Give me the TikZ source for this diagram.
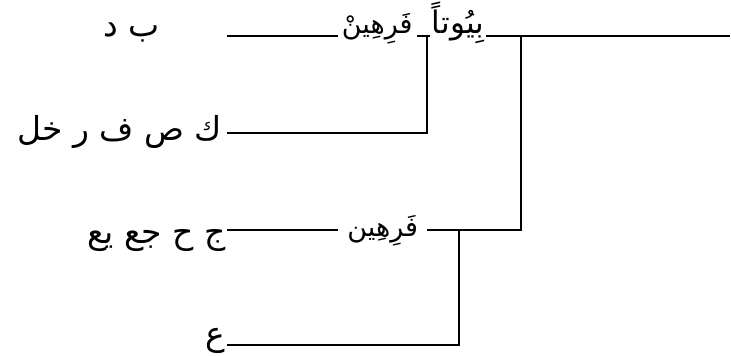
\documentclass[tikz,border=0pt]{standalone}
\usepackage{fontspec}
\TeXXeTstate=1
\newfontfamily\arabicfont[Script=Arabic]{DejaVu Sans}
\begin{document}
\begin{tikzpicture}[x=1pt,y=-1pt,
  br/.style={line width=1.3pt, line cap=rect},
  leaf/.style={anchor=base east, inner sep=0pt, font=\arabicfont\fontsize{33}{38}\selectfont},
  lbl/.style={anchor=base, fill=white, inner ysep=0pt, inner xsep=4pt, font=\arabicfont\fontsize{27}{32}\selectfont}]
\useasboundingbox (0,0) rectangle (731,356);
% leaves
\node[leaf] (l1) at (160,36) {\beginR ب د\endR};
\node[leaf] (l2) at (222,140) {\beginR ك ص ف ر خل\endR};
\node[leaf] (l3) at (226,243) {\beginR ج ح جع يع\endR};
\node[leaf] (l4) at (225,345) {\beginR ع\endR};
% line starts
\coordinate (a1) at (228,36);
\coordinate (a2) at (228,133);
\coordinate (a3) at (228,230);
\coordinate (a4) at (228,345);
% junctions
\coordinate (j1) at (427,36);
\coordinate (j1b) at (427,133);
\coordinate (j3) at (459,230);
\coordinate (j3b) at (459,345);
\coordinate (j2) at (521,36);
\coordinate (j2b) at (521,230);
\coordinate (r) at (729,36);
% branches
\draw[br] (a1) -- node[lbl, pos=0.75, yshift=2pt] {\beginR فَرِهِينْ\endR} (j1);
\draw[br] (a2) -- (j1b) -- (j1);
\draw[br] (j1) -- node[lbl, pos=0.33, yshift=2pt, inner xsep=2pt, font=\arabicfont\fontsize{31}{36}\selectfont] {\beginR بِيُوتاً\endR} (j2);
\draw[br] (a3) -- node[lbl, pos=0.67, inner xsep=9pt, yshift=-6pt] {\beginR فَرِهِين\endR} (j3);
\draw[br] (a4) -- (j3b) -- (j3);
\draw[br] (j3) -- (j2b) -- (j2);
\draw[br] (j2) -- (r);
\end{tikzpicture}
\end{document}
